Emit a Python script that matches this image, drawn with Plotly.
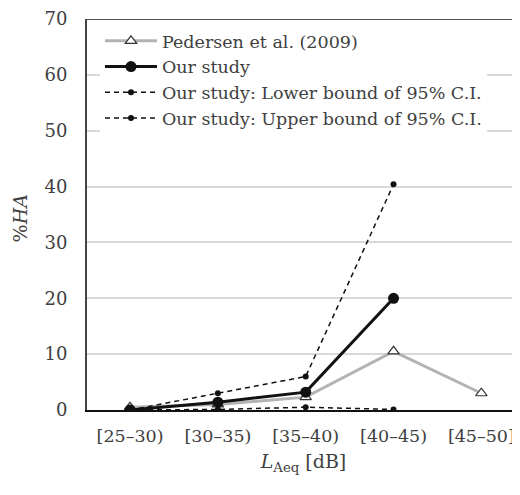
import plotly.graph_objects as go

categories = ["[25–30)", "[30–35)", "[35–40)", "[40–45)", "[45–50]"]
pedersen = [0.5, 1.0, 2.3, 10.5, 3.0]
our_study = [0.0, 1.4, 3.2, 20.0, None]
lower_ci = [0.0, 0.1, 0.5, 0.1, None]
upper_ci = [0.0, 3.0, 6.0, 40.4, None]
y_ticks = [0, 10, 20, 30, 40, 50, 60, 70]

FONT = "DejaVu Serif"
x = list(range(len(categories)))

fig = go.Figure()
fig.add_trace(go.Scatter(
    x=x, y=pedersen, name="Pedersen et al. (2009)", mode="lines+markers",
    line=dict(color="#b3b3b3", width=3),
    marker=dict(symbol="triangle-up", size=10, color="white",
                line=dict(color="#333333", width=1.2)),
))
fig.add_trace(go.Scatter(
    x=x, y=our_study, name="Our study", mode="lines+markers",
    line=dict(color="#111111", width=3),
    marker=dict(symbol="circle", size=11, color="#111111"),
))
fig.add_trace(go.Scatter(
    x=x, y=lower_ci, name="Our study: Lower bound of 95% C.I.", mode="lines+markers",
    line=dict(color="#111111", width=1.5, dash="5px,4px"),
    marker=dict(symbol="circle", size=6, color="#111111"),
))
fig.add_trace(go.Scatter(
    x=x, y=upper_ci, name="Our study: Upper bound of 95% C.I.", mode="lines+markers",
    line=dict(color="#111111", width=1.5, dash="5px,4px"),
    marker=dict(symbol="circle", size=6, color="#111111"),
))

fig.add_shape(type="line", xref="paper", yref="y", x0=0, x1=1, y0=70, y1=70,
              line=dict(color="#555555", width=2))

fig.add_annotation(
    text="%<i>HA</i>", xref="paper", yref="paper", x=-0.1547, y=0.49,
    xanchor="center", yanchor="middle", textangle=-90, showarrow=False,
    font=dict(family=FONT, size=19, color="#404040"),
)

fig.update_layout(
    width=512, height=487,
    margin=dict(l=79, r=0, t=9, b=85),
    paper_bgcolor="white", plot_bgcolor="white",
    font=dict(family=FONT, size=16, color="#404040"),
    showlegend=True,
    legend=dict(x=0.03, y=0.99, xanchor="left", yanchor="top",
                bgcolor="white", borderwidth=0, itemwidth=52,
                font=dict(family=FONT, size=17.5, color="#404040"),
                tracegroupgap=0),
    xaxis=dict(
        tickmode="array", tickvals=x, ticktext=categories,
        range=[-0.49, 4.44], showgrid=False, zeroline=False,
        showline=True, linecolor="#111111", linewidth=2,
        ticks="", ticklen=0, tickfont=dict(size=17.5), ticklabelstandoff=9,
        title=dict(text="<i>L</i><sub>Aeq</sub> [dB]", font=dict(size=19), standoff=10),
    ),
    yaxis=dict(
        range=[0, 70], tickvals=y_ticks, showgrid=True, gridcolor="#d9d9d9", gridwidth=1.5,
        zeroline=False, showline=True, linecolor="#444444", linewidth=2,
        ticks="", tickfont=dict(size=18), ticklabelstandoff=14,
        ticklabeloverflow="allow",
    ),
)

fig.write_html("out.html")
